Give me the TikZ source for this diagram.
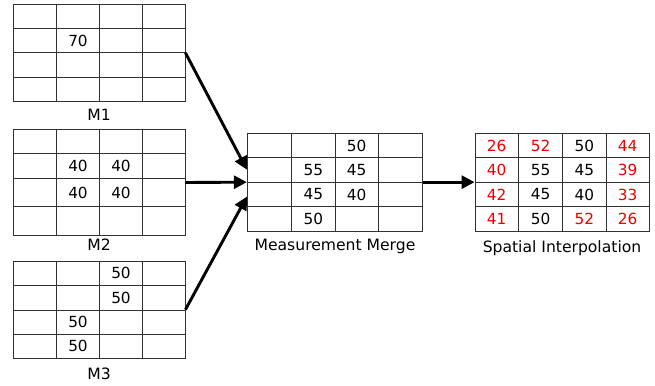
\documentclass[tikz,border=0pt]{standalone}
\usepackage{fontspec}
\setmainfont{DejaVu Sans}
\usetikzlibrary{arrows.meta,calc,fit}
\definecolor{gridc}{RGB}{50,50,50}
\definecolor{redv}{RGB}{238,0,0}
\tikzset{
  gridline/.style={draw=gridc, line width=0.9pt},
  valtext/.style={inner sep=0pt, font=\fontsize{15.3pt}{18pt}\selectfont},
  lbl/.style={inner sep=0pt, anchor=base, font=\fontsize{15.6pt}{18pt}\selectfont},
  arr/.style={line width=2.9pt, -{Triangle[length=13pt,width=13pt]}},
}
\newcommand{\mkgrid}[3]{%
  \foreach \v [count=\i] in {#2} {\coordinate (#1-x\i) at (\v,0);}
  \foreach \v [count=\i] in {#3} {\coordinate (#1-y\i) at (0,\v);}
  \coordinate (#1-nw) at (#1-x1 |- #1-y1);
  \coordinate (#1-se) at (#1-x5 |- #1-y5);
  \node[fit=(#1-nw)(#1-se), inner sep=0pt, gridline] (#1) {};
  \foreach \i in {2,3,4} {
    \draw[gridline] (#1-x\i |- #1-y1) -- (#1-x\i |- #1-y5);
    \draw[gridline] (#1-x1 |- #1-y\i) -- (#1-x5 |- #1-y\i);
  }
  \foreach \r in {1,2,3,4} {
    \foreach \c in {1,2,3,4} {
      \pgfmathtruncatemacro\rr{\r+1}
      \pgfmathtruncatemacro\cc{\c+1}
      \coordinate (#1-\r\c) at ($(#1-x\c |- #1-y\r)!0.5!(#1-x\cc |- #1-y\rr)$);
    }
  }
}
\newcommand{\val}[4][black]{\node[valtext, text=#1] (#2-v#3) at (#2-#3) {#4};}
\begin{document}
\begin{tikzpicture}[x=1pt, y=-1pt]
\useasboundingbox (0,0) rectangle (655,385);
% M1
\mkgrid{m1}{13.3,56.7,99.3,142.7,185}{4,28.3,52.7,77.3,101.7}
\val{m1}{22}{70}
\node[lbl] (m1-label) at (99,120.7) {M1};
% M2
\mkgrid{m2}{13.3,56.7,99.3,142.7,185}{129.3,153.3,178.3,206.7,235.7}
\val{m2}{22}{40}\val{m2}{23}{40}
\val{m2}{32}{40}\val{m2}{33}{40}
\node[lbl] (m2-label) at (99,250.5) {M2};
% M3
\mkgrid{m3}{13.3,56.7,99.3,142.7,185}{261,285.7,310,334.3,358.3}
\val{m3}{13}{50}\val{m3}{23}{50}
\val{m3}{32}{50}\val{m3}{42}{50}
\node[lbl] (m3-label) at (99,379) {M3};
% Merge
\mkgrid{mg}{247.3,291.7,335,378.3,422.3}{133.3,157.7,182.3,206.7,231}
\val{mg}{13}{50}
\val{mg}{22}{55}\val{mg}{23}{45}
\val{mg}{32}{45}\val{mg}{33}{40}
\val{mg}{42}{50}
\node[lbl] (mg-label) at (335,250) {Measurement Merge};
% Interpolation
\mkgrid{ip}{475,518.3,562.7,606,649.3}{133.3,157.7,182.3,206.7,231}
\val[redv]{ip}{11}{26}\val[redv]{ip}{12}{52}\val{ip}{13}{50}\val[redv]{ip}{14}{44}
\val[redv]{ip}{21}{40}\val{ip}{22}{55}\val{ip}{23}{45}\val[redv]{ip}{24}{39}
\val[redv]{ip}{31}{42}\val{ip}{32}{45}\val{ip}{33}{40}\val[redv]{ip}{34}{33}
\val[redv]{ip}{41}{41}\val{ip}{42}{50}\val[redv]{ip}{43}{52}\val[redv]{ip}{44}{26}
\node[lbl] (ip-label) at (562,252.7) {Spatial Interpolation};
% arrows
\coordinate (tipA) at ($(mg.west)+(0,-12.5)$);
\coordinate (tipC) at ($(mg.west)+(0,14.5)$);
\draw[arr] (m1.east) -- (tipA);
\draw[arr] (m2.east) -- (mg.west);
\draw[arr] (m3.east) -- (tipC);
\draw[arr] (mg.east) -- (ip.west);
\end{tikzpicture}
\end{document}
